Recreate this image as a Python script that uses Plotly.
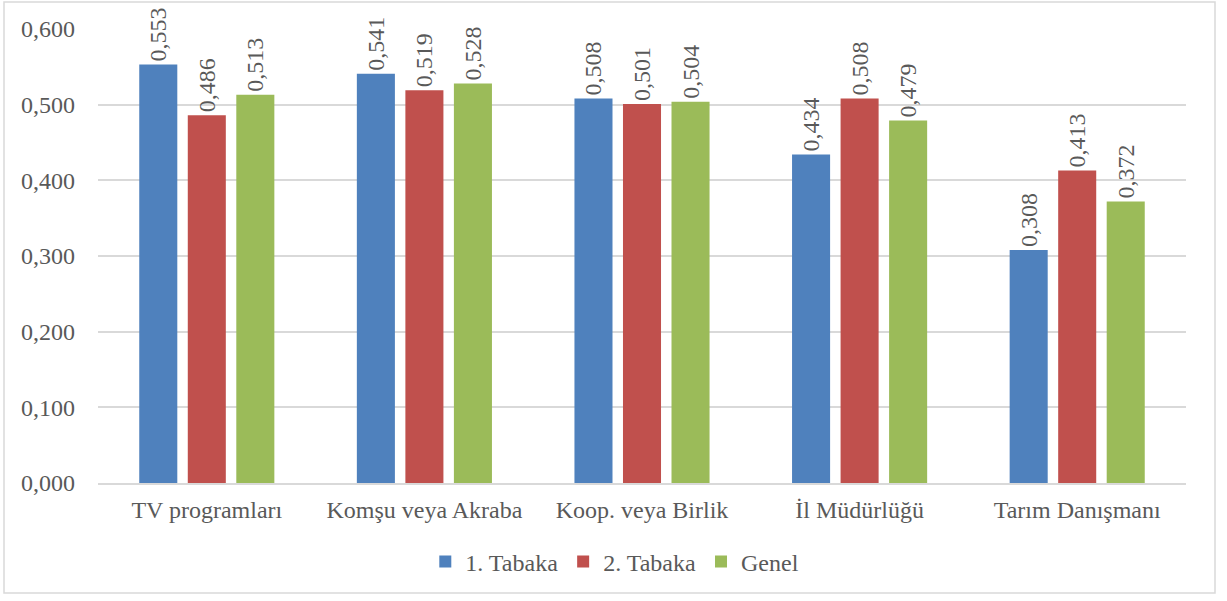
import plotly.graph_objects as go

categories = ["TV programları", "Komşu veya Akraba", "Koop. veya Birlik", "İl Müdürlüğü", "Tarım Danışmanı"]
tabaka1 = [0.553, 0.541, 0.508, 0.434, 0.308]
tabaka2 = [0.486, 0.519, 0.501, 0.508, 0.413]
genel = [0.513, 0.528, 0.504, 0.479, 0.372]
series_names = ["1. Tabaka", "2. Tabaka", "Genel"]
colors = ["#4F81BD", "#C0504D", "#9BBB59"]
tick_vals = [0.0, 0.1, 0.2, 0.3, 0.4, 0.5, 0.6]
tick_text = ["0,000", "0,100", "0,200", "0,300", "0,400", "0,500", "0,600"]

FONT = "Liberation Serif"
FS = 24
TXT = "#595959"

def fmt(v):
    return f"{v:.3f}".replace(".", ",")

fig = go.Figure()
for name, vals, col in zip(series_names, [tabaka1, tabaka2, genel], colors):
    fig.add_trace(go.Bar(
        x=categories, y=vals, name=name,
        marker=dict(color=col, line=dict(width=0)),
        text=[fmt(v) for v in vals],
        textposition="outside", textangle=-90,
        textfont=dict(family=FONT, size=FS, color=TXT),
        constraintext="none", cliponaxis=False,
    ))

W, H = 1227, 601
L, R, T, B = 98, W - 1186, 29, H - 483
fig.update_layout(
    width=W, height=H,
    margin=dict(l=L, r=R, t=T, b=B),
    paper_bgcolor="white", plot_bgcolor="white",
    barmode="group", bargap=0.331, bargroupgap=0.216,
    font=dict(family=FONT, size=FS, color=TXT),
    showlegend=True,
    legend=dict(orientation="h", x=0.475, xanchor="center", y=-0.174, yanchor="middle",
                font=dict(family=FONT, size=FS, color=TXT), traceorder="normal"),
    xaxis=dict(showgrid=False, showline=True, linecolor="#D9D9D9", linewidth=1.5,
               ticks="", ticklabelstandoff=4,
               tickfont=dict(family=FONT, size=FS, color=TXT)),
    yaxis=dict(range=[0, 0.6], tickvals=tick_vals, ticktext=tick_text,
               showgrid=True, gridcolor="#D9D9D9", gridwidth=1.5, zeroline=False,
               showline=False, ticks="", ticklabelstandoff=22,
               tickfont=dict(family=FONT, size=FS, color=TXT)),
)

pw = W - L - R
ph = H - T - B
def px_x(x):
    return (x - L) / pw
def px_y(y):
    return (H - B - y) / ph

fig.add_shape(type="rect", xref="paper", yref="paper",
              x0=px_x(4), x1=px_x(1215), y0=px_y(593), y1=px_y(2),
              line=dict(color="#D9D9D9", width=1.5), fillcolor="rgba(0,0,0,0)", layer="below")

fig.write_html("out.html")
